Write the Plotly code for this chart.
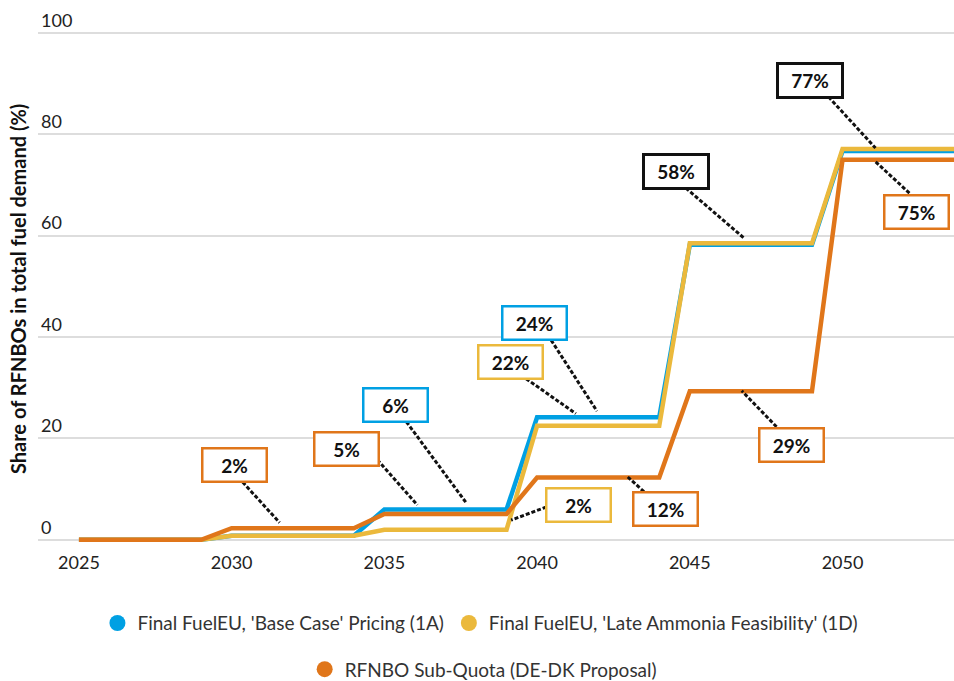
import plotly.graph_objects as go

# ---------------- data ----------------
years = [2025, 2026, 2027, 2028, 2029, 2030, 2031, 2032, 2033, 2034,
         2035, 2036, 2037, 2038, 2039, 2040, 2041, 2042, 2043, 2044,
         2045, 2046, 2047, 2048, 2049, 2050, 2051, 2052, 2053, 2054, 2055]

base_case_1a = [0, 0, 0, 0, 0, 0.8, 0.8, 0.8, 0.8, 0.8,
                6.0, 6.0, 6.0, 6.0, 6.0, 24.2, 24.2, 24.2, 24.2, 24.2,
                58.2, 58.2, 58.2, 58.2, 58.2, 76.7, 76.7, 76.7, 76.7, 76.7, 76.7]

late_ammonia_1d = [0, 0, 0, 0, 0, 0.8, 0.8, 0.8, 0.8, 0.8,
                   2.0, 2.0, 2.0, 2.0, 2.0, 22.5, 22.5, 22.5, 22.5, 22.5,
                   58.5, 58.5, 58.5, 58.5, 58.5, 77.1, 77.1, 77.1, 77.1, 77.1, 77.1]

sub_quota = [0, 0, 0, 0, 0, 2.3, 2.3, 2.3, 2.3, 2.3,
             5.1, 5.1, 5.1, 5.1, 5.1, 12.3, 12.3, 12.3, 12.3, 12.3,
             29.3, 29.3, 29.3, 29.3, 29.3, 75.0, 75.0, 75.0, 75.0, 75.0, 75.0]

series_names = ["Final FuelEU, 'Base Case' Pricing (1A)",
                "Final FuelEU, 'Late Ammonia Feasibility' (1D)",
                "RFNBO Sub-Quota (DE-DK Proposal)"]

x_ticks = [2025, 2030, 2035, 2040, 2045, 2050]
y_ticks = [0, 20, 40, 60, 80, 100]

y_title = "Share of RFNBOs in total fuel demand (%)"

# label texts
label_texts = ["2%", "5%", "6%", "24%", "22%", "2%", "12%", "29%", "58%", "77%", "75%"]

# ---------------- styling / layout ----------------
BLUE = "#00A0E3"
YELLOW = "#EBB93C"
ORANGE = "#E0761A"
BLACK = "#111111"
FONT = "Lato, 'Open Sans', sans-serif"

series_colors = [BLUE, YELLOW, ORANGE]

# callout placement: (box x, box y, border colour, connector start (x, y), connector end (x, y))
callouts = [
    (2030.10, 14.8, ORANGE, (2030.36, 11.4), (2031.57, 3.4)),
    (2033.76, 17.9, ORANGE, (2034.77, 15.8), (2036.08, 6.9)),
    (2035.36, 26.6, BLUE,   (2035.72, 23.3), (2037.68, 7.3)),
    (2039.90, 42.8, BLUE,   (2040.46, 39.4), (2041.96, 25.4)),
    (2039.12, 35.1, YELLOW, (2039.64, 31.8), (2041.27, 24.9)),
    (2041.34, 6.9,  YELLOW, (2040.49, 6.9),  (2039.15, 3.9)),
    (2044.22, 6.1,  ORANGE, (2043.50, 9.5),  (2042.97, 12.4)),
    (2048.33, 18.7, ORANGE, (2047.84, 22.3), (2046.70, 29.4)),
    (2044.54, 72.6, BLACK,  (2044.87, 69.4), (2046.80, 59.4)),
    (2048.95, 90.7, BLACK,  (2049.54, 87.4), (2051.08, 77.3)),
    (2052.42, 64.7, ORANGE, (2052.19, 68.4), (2051.08, 74.6)),
]

fig = go.Figure()

for vals, name, col in zip([base_case_1a, late_ammonia_1d, sub_quota], series_names, series_colors):
    fig.add_trace(go.Scatter(x=years, y=vals, mode="lines", name=name,
                             line=dict(color=col, width=4.5), showlegend=False,
                             hoverinfo="skip"))

# legend entries (circle markers)
for i, (name, col) in enumerate(zip(series_names, series_colors)):
    fig.add_trace(go.Scatter(x=[None], y=[None], mode="markers", name=name,
                             marker=dict(color=col, size=20),
                             legend="legend" if i < 2 else "legend2"))

shapes = []
annotations = []
for (bx, by, bc, (sx, sy), (ex, ey)), txt in zip(callouts, label_texts):
    shapes.append(dict(type="line", xref="x", yref="y", x0=sx, y0=sy, x1=ex, y1=ey,
                       line=dict(color="#111111", width=3, dash="4px,2px"), layer="above"))
    annotations.append(dict(x=bx, y=by, xref="x", yref="y", text="<b>" + txt + "</b>",
                            showarrow=False, font=dict(family=FONT, size=19, color="#111111"),
                            bgcolor="white", bordercolor=bc,
                            borderwidth=3 if bc == BLACK else 2.5, borderpad=1,
                            width=60, height=29))

# y-axis title
annotations.append(dict(x=-0.0218, y=0.4745, xref="paper", yref="paper",
                        text="<b>" + y_title + "</b>", textangle=-90, showarrow=False,
                        xanchor="center", yanchor="middle",
                        font=dict(family=FONT, size=20, color="#111111")))

fig.update_layout(
    width=954, height=681,
    margin=dict(l=38, r=0, t=0, b=131, autoexpand=False),
    paper_bgcolor="white", plot_bgcolor="white",
    font=dict(family=FONT, color="#222222", size=18),
    xaxis=dict(range=[2023.66, 2053.65], tickvals=x_ticks, showgrid=False,
               zeroline=False, showline=False, ticks="",
               tickfont=dict(size=18, color="#222222")),
    yaxis=dict(range=[-2, 106.5], tickvals=y_ticks, showgrid=True,
               gridcolor="#DDDDDD", gridwidth=1.5, zeroline=False, showline=False,
               ticks="", ticklabelposition="inside top", automargin=False,
               tickfont=dict(size=18, color="#222222")),
    legend=dict(orientation="h", x=0.483, xanchor="center", y=-0.133, yanchor="middle",
                font=dict(size=19, color="#333333"), bgcolor="rgba(0,0,0,0)",
                itemsizing="trace"),
    legend2=dict(orientation="h", x=0.486, xanchor="center", y=-0.217, yanchor="middle",
                 font=dict(size=19, color="#333333"), bgcolor="rgba(0,0,0,0)",
                 itemsizing="trace"),
    shapes=shapes,
    annotations=annotations,
)

fig.write_html("out.html", config={"displayModeBar": False},
               post_script="document.body.style.margin='0px';")
